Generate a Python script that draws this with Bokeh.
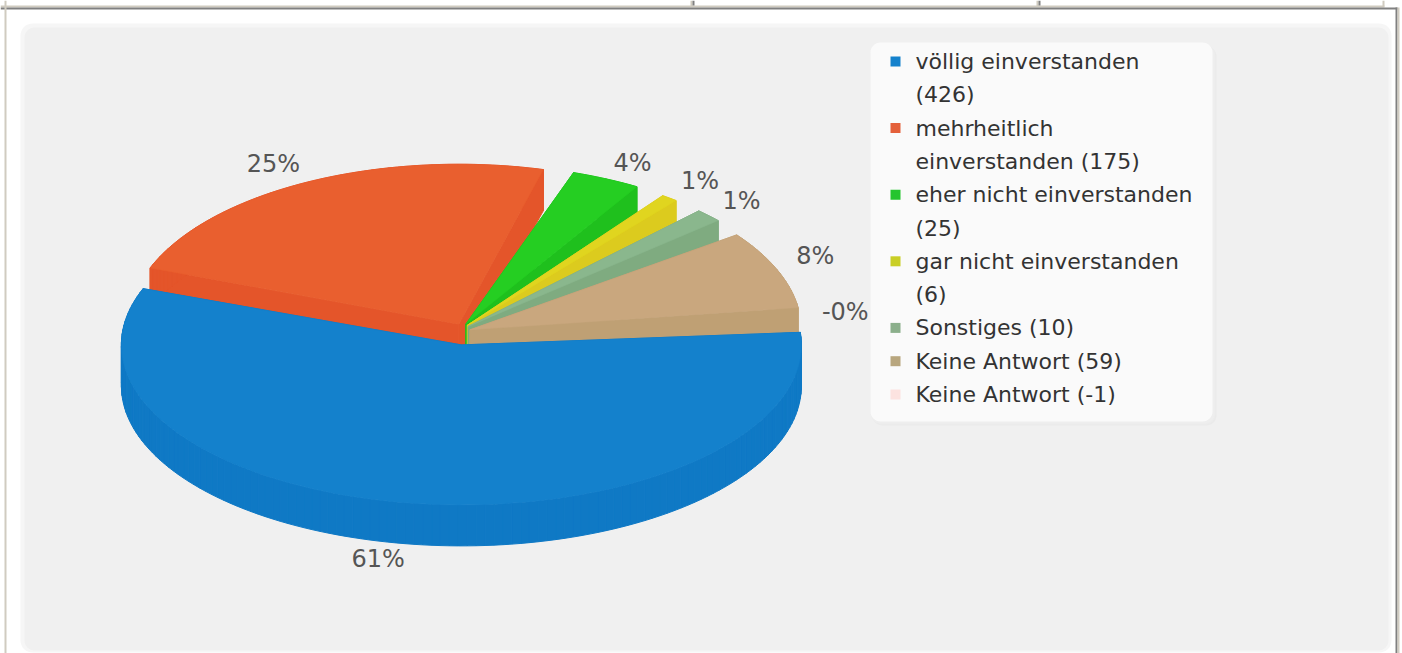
import math
import textwrap
from bokeh.plotting import figure
from bokeh.embed import file_html
from bokeh.resources import INLINE
from bokeh.core.properties import value

categories = ["völlig einverstanden", "mehrheitlich einverstanden", "eher nicht einverstanden",
              "gar nicht einverstanden", "Sonstiges", "Keine Antwort", "Keine Antwort"]
counts = [426, 175, 25, 6, 10, 59, -1]
top_colors = ["#1481CC", "#E95F2F", "#25CE22", "#E0D51F", "#8AB78D", "#C9A77E", "#FFE0E0"]
wall_colors = ["#0F79C5", "#E4552A", "#1FC01D", "#DCCB1E", "#7FAB80", "#BFA074", "#F5D0D0"]
legend_colors = ["#1481CC", "#E4603A", "#25C52F", "#C9CE25", "#8BAF8B", "#B8A67E", "#FCE3E0"]

W, H = 1402, 653
CX, CY = 462.0, 333.5
RX, RY = 340.0, 160.0
RADIUS_SCALE = [1.0, 0.97, 0.98, 0.98, 0.98, 0.975, 0.97]
DEPTH = 41.0
EXPLODE_X, EXPLODE_Y = 8.0, 11.0
START_CW = 355.5
SWEEP_TOTAL = 337.5
GAP_AFTER = [0.0, 4.0, 5.0, 5.0, 5.0, 3.5, 0.0]
LABEL_RX, LABEL_RY = 395.0, 190.0
LABEL_NUDGE = [(-29, -4), (-8, -1), (4, 1), (-2, -2), (-6, -1), (-13, -6), (-11, -7)]
FONT = "DejaVu Sans"

p = figure(width=W, height=H, x_range=(0, W), y_range=(H, 0), toolbar_location=None,
           output_backend="svg", min_border=0, outline_line_color=None,
           background_fill_color="white", border_fill_color="white")
p.axis.visible = False
p.grid.visible = False


def rounded(x0, y0, x1, y1, r):
    xs, ys = [], []
    for cx, cy, a0 in ((x1 - r, y0 + r, -90), (x1 - r, y1 - r, 0), (x0 + r, y1 - r, 90), (x0 + r, y0 + r, 180)):
        for k in range(9):
            a = math.radians(a0 + k * 90 / 8)
            xs.append(cx + r * math.cos(a))
            ys.append(cy + r * math.sin(a))
    return xs, ys


# page table frame
p.quad(left=[0], right=[1384], top=[5], bottom=[7], fill_color="#D0CBC0", line_color=None)
p.quad(left=[0], right=[1397], top=[7], bottom=[9], fill_color="#808080", line_color=None)
p.quad(left=[4], right=[6], top=[0], bottom=[H], fill_color="#D0CBC0", line_color=None)
p.quad(left=[1395], right=[1397], top=[7], bottom=[H], fill_color="#808080", line_color=None)
p.quad(left=[1397], right=[1399], top=[7], bottom=[H], fill_color="#D0CBC0", line_color=None)
p.quad(left=[690, 1036, 1382], right=[692, 1038, 1384], top=[0, 0, 0], bottom=[6, 6, 6],
       fill_color="#D0CBC0", line_color=None)
p.quad(left=[692, 1038], right=[694, 1040], top=[0, 0], bottom=[5, 5],
       fill_color="#808080", line_color=None)

# panel
xs, ys = rounded(20, 23, 1391, 652, 12)
p.patch(xs, ys, fill_color="#F6F6F6", line_color=None)
xs, ys = rounded(24, 27, 1388, 650, 10)
p.patch(xs, ys, fill_color="#F0F0F0", line_color=None)

# pie
positive = [max(v, 0) for v in counts]
total_pos = sum(positive)
total = sum(counts)
angle = START_CW
slices = []
for i, v in enumerate(positive):
    sweep = v / total_pos * SWEEP_TOTAL
    slices.append((i, angle, angle + sweep))
    angle += sweep + GAP_AFTER[i]


def draw_slice(i, a0, a1):
    mid = math.radians((a0 + a1) / 2)
    cx = CX + EXPLODE_X * math.cos(mid)
    cy = CY + EXPLODE_Y * math.sin(mid)
    rx = RX * RADIUS_SCALE[i]
    n = max(2, int((a1 - a0) / 1.5))
    pts = [(cx, cy)]
    for k in range(n + 1):
        t = math.radians(a0 + (a1 - a0) * k / n)
        pts.append((cx + rx * math.cos(t), cy + RY * math.sin(t)))
    qx, qy = [], []
    for j in range(len(pts)):
        x0, y0 = pts[j]
        x1, y1 = pts[(j + 1) % len(pts)]
        qx.append([x0, x1, x1, x0])
        qy.append([y0, y1, y1 + DEPTH, y0 + DEPTH])
    p.patches(qx, qy, fill_color=wall_colors[i], fill_alpha=1.0,
              line_color=wall_colors[i], line_alpha=1.0, line_width=1)
    p.patch([q[0] for q in pts], [q[1] for q in pts], fill_color=top_colors[i], fill_alpha=1.0,
            line_color=top_colors[i], line_width=0.5)


# paint from the back (orange) round to the front (blue last)
for i, a0, a1 in slices[1:6] + slices[:1]:
    draw_slice(i, a0, a1)

# percentage labels
for (i, a0, a1), v in zip(slices, counts):
    mid = math.radians((a0 + a1) / 2)
    lx = CX + LABEL_RX * math.cos(mid) + LABEL_NUDGE[i][0]
    ly = CY + LABEL_RY * math.sin(mid) + LABEL_NUDGE[i][1]
    if math.sin(mid) > 0.5:
        ly += DEPTH
    p.text([lx], [ly], text=[f"{v / total * 100:.0f}%"], text_font=value(FONT),
           text_font_size="24px", text_color="#555555", text_align="center", text_baseline="middle")

# legend
LEG = (870, 42, 1212, 421)
for off, col in ((4, "#EAEAEA"), (3, "#ECECEC"), (2, "#EEEEEE")):
    xs, ys = rounded(LEG[0] + off - 2, LEG[1] + off, LEG[2] + off, LEG[3] + off, 10)
    p.patch(xs, ys, fill_color=col, line_color=None)
xs, ys = rounded(*LEG, 10)
p.patch(xs, ys, fill_color="#FAFAFA", line_color=None)

LINE_H = 33.3
y = 61.0
for name, v, col in zip(categories, counts, legend_colors):
    lines = textwrap.wrap(f"{name} ({v})", width=25)
    p.scatter([895], [y], marker="square", size=10, fill_color=col, line_color=None)
    for line in lines:
        p.text([915], [y], text=[line], text_font=value(FONT), text_font_size="22px",
               text_color="#333333", text_align="left", text_baseline="middle")
        y += LINE_H

open("out.html", "w").write(file_html(p, INLINE))
